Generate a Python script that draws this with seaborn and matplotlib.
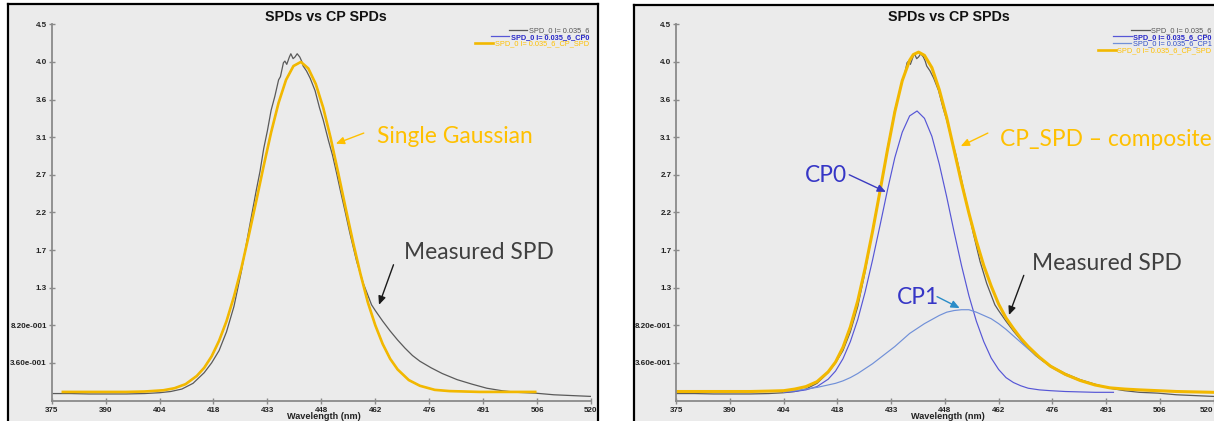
import matplotlib
matplotlib.use("Agg")
import matplotlib.pyplot as plt
import seaborn as sns
from matplotlib import font_manager as fm
from matplotlib.lines import Line2D

# ---------------- data ----------------
measured_nm = [375, 380, 385, 390, 395, 400, 404, 407, 410, 413,
               416, 418, 420, 422, 424, 426, 428, 430, 431, 432,
               433, 434, 435, 436, 436.5, 437.3, 437.7, 438.2, 438.9, 439.3,
               439.9, 440.4, 441.0, 441.7, 442.2, 442.6, 443.5, 444.5, 445.8, 447,
               448, 449.4, 450.5, 451.6, 452.6, 453.6, 455.2, 457, 458.8, 461,
               462, 464, 466, 468, 470, 472, 474, 477, 480, 484,
               488, 492, 496, 500, 505, 510, 515, 520]
measured_val = [-0.015, -0.015, -0.02, -0.02, -0.02, -0.015, -0.005, 0.01, 0.04, 0.11,
                0.24, 0.36, 0.51, 0.74, 1.05, 1.48, 1.98, 2.47, 2.70, 2.98,
                3.20, 3.45, 3.62, 3.82, 3.86, 4.03, 4.05, 4.01, 4.10, 4.14,
                4.08, 4.10, 4.14, 4.10, 4.05, 3.99, 3.93, 3.84, 3.69, 3.48,
                3.33, 3.08, 2.90, 2.68, 2.47, 2.27, 1.94, 1.60, 1.33, 1.07,
                1.00, 0.87, 0.75, 0.64, 0.54, 0.45, 0.38, 0.30, 0.23, 0.155,
                0.10, 0.05, 0.02, 0.0, -0.01, -0.03, -0.04, -0.05]

gauss_nm = [378, 385, 390, 395, 400, 405, 408, 411, 414, 416,
            418, 420, 422, 424, 426, 428, 430, 432, 434, 436,
            438, 440, 442, 444, 446, 448, 450, 452, 454, 456,
            458, 460, 462, 464, 466, 468, 471, 474, 478, 482,
            486, 490, 495, 500, 505]
gauss_val = [0.005, 0.005, 0.005, 0.005, 0.01, 0.025, 0.05, 0.10, 0.20, 0.30,
             0.44, 0.63, 0.87, 1.17, 1.52, 1.92, 2.34, 2.77, 3.18, 3.54,
             3.82, 3.99, 4.04, 3.96, 3.77, 3.48, 3.11, 2.69, 2.26, 1.84,
             1.45, 1.10, 0.82, 0.59, 0.41, 0.28, 0.15, 0.08, 0.03, 0.015,
             0.01, 0.005, 0.005, 0.005, 0.005]

cp0_nm = [404, 407, 410, 413, 416, 418, 420, 422, 424, 426,
          428, 430, 432, 434, 436, 438, 440, 442, 444, 446,
          448, 450, 452, 454, 456, 458, 460, 462, 464, 466,
          468, 470, 473, 476, 480, 484, 488, 493]
cp0_val = [0.0, 0.01, 0.03, 0.07, 0.16, 0.26, 0.41, 0.62, 0.89, 1.23,
           1.62, 2.04, 2.47, 2.87, 3.18, 3.38, 3.44, 3.35, 3.13, 2.79,
           2.39, 1.96, 1.55, 1.18, 0.87, 0.62, 0.42, 0.28, 0.18, 0.12,
           0.08, 0.05, 0.03, 0.02, 0.01, 0.005, 0.0, 0.0]

cp1_nm = [404, 407, 410, 413, 416, 418, 420, 422, 424, 426,
          428, 430, 432, 434, 436, 438, 440, 442, 444, 446,
          448, 450, 452, 454, 456, 458, 460, 462, 464, 466,
          468, 470, 473, 476, 480, 484, 488, 492, 496, 500,
          505, 510, 515, 520]
cp1_val = [0.005, 0.02, 0.04, 0.06, 0.09, 0.11, 0.14, 0.18, 0.23, 0.29,
           0.35, 0.42, 0.49, 0.56, 0.64, 0.72, 0.78, 0.84, 0.89, 0.94,
           0.98, 1.00, 1.01, 1.01, 0.98, 0.94, 0.90, 0.84, 0.77, 0.69,
           0.61, 0.53, 0.42, 0.31, 0.21, 0.14, 0.09, 0.055, 0.035, 0.025,
           0.015, 0.01, 0.005, 0.0]

cp_spd_nm = [375, 380, 385, 390, 395, 400, 404, 407, 410, 413,
             416, 418, 420, 422, 424, 426, 428, 430, 432, 434,
             436, 438, 439, 440.4, 442, 444, 446, 448, 450, 452,
             454, 456, 458, 460, 462, 464, 466, 468, 470, 473,
             476, 480, 484, 488, 492, 496, 500, 505, 510, 515, 520]
cp_spd_val = [0.01, 0.01, 0.01, 0.01, 0.01, 0.015, 0.02, 0.04, 0.07, 0.13,
              0.25, 0.37, 0.55, 0.80, 1.12, 1.52, 1.97, 2.46, 2.96, 3.43,
              3.81, 4.06, 4.13, 4.16, 4.12, 3.97, 3.70, 3.36, 2.96, 2.56,
              2.19, 1.85, 1.55, 1.30, 1.08, 0.91, 0.78, 0.66, 0.56, 0.43,
              0.32, 0.22, 0.145, 0.09, 0.055, 0.04, 0.03, 0.02, 0.01, 0.005, 0.0]

x_ticks = [375, 389.5, 404, 418.5, 433, 447.5, 462, 476.5, 491, 505.5, 520]
x_tick_labels = ["375", "390", "404", "418", "433", "448", "462", "476", "491", "506", "520"]
y_ticks = [0.36, 0.82, 1.28, 1.74, 2.2, 2.66, 3.12, 3.58, 4.04, 4.5]
y_tick_labels = ["3.60e-001", "8.20e-001", "1.3", "1.7", "2.2", "2.7", "3.1", "3.6", "4.0", "4.5"]

title_text = "SPDs vs CP SPDs"
xlabel_text = "Wavelength (nm)"
legend_left = ["SPD_0 I= 0.035_6", "SPD_0 I= 0.035_6_CP0", "SPD_0 I= 0.035_6_CP_SPD"]
legend_right = ["SPD_0 I= 0.035_6", "SPD_0 I= 0.035_6_CP0", "SPD_0 I= 0.035_6_CP1",
                "SPD_0 I= 0.035_6_CP_SPD"]

# ---------------- style ----------------
avail = {f.name for f in fm.fontManager.ttflist}
def pick(*names):
    for n in names:
        if n in avail:
            return n
    return "DejaVu Sans"

SANS = pick("Liberation Sans", "Arimo", "DejaVu Sans")
CAL = pick("Lato", "Open Sans", "DejaVu Sans")
plt.rcParams["font.family"] = [SANS, "DejaVu Sans"]

BG = "#EBEBEB"
MEAS = "#5A5A5A"
GOLD_LINE = "#F2B800"
GOLD_TEXT = "#FFC000"
CP0_LINE = "#5656D6"
CP1_LINE = "#7090D8"
BLUE_TEXT = "#3636C6"
LEG_BLUE = "#2828C8"
AXIS_C = "#8A8A8A"

W, H = 1214, 421
fig = plt.figure(figsize=(W / 100, H / 100), dpi=100)
fig.patch.set_facecolor("white")


def px_axes(x0, y0, x1, y1):
    return [x0 / W, (H - y1) / H, (x1 - x0) / W, (y1 - y0) / H]


def frame(x0, y0, x1, y1):
    fr = fig.add_axes(px_axes(x0, y0, x1, y1))
    fr.set_facecolor(BG)
    for s in fr.spines.values():
        s.set_color("black")
        s.set_linewidth(1.6)
    fr.set_xticks([])
    fr.set_yticks([])
    fr.set_zorder(0)
    return fr


frame(8, 4, 598, 445)
frame(634, 5, 1260, 445)

PLOT_TOP, PLOT_BOT = 24.3, 400.5


def make_axes(x0, x1, last_label_right=False):
    ax = fig.add_axes(px_axes(x0, PLOT_TOP, x1, PLOT_BOT))
    ax.set_facecolor("none")
    ax.set_zorder(2)
    ax.set_xlim(375, 520)
    ax.set_ylim(-0.1, 4.5)
    for side in ("top", "right"):
        ax.spines[side].set_visible(False)
    for side in ("left", "bottom"):
        ax.spines[side].set_color(AXIS_C)
        ax.spines[side].set_linewidth(1.3)
    ax.set_xticks(x_ticks)
    ax.set_xticklabels(x_tick_labels)
    ax.set_yticks(y_ticks)
    ax.set_yticklabels(y_tick_labels)
    ax.tick_params(axis="both", direction="inout", length=5, width=1.0,
                   color=AXIS_C, labelsize=5.8, labelcolor="#222222")
    ax.tick_params(axis="x", pad=2.5)
    ax.tick_params(axis="y", pad=1.0)
    for lab in ax.get_xticklabels() + ax.get_yticklabels():
        lab.set_fontweight("bold")
    if last_label_right:
        ax.get_xticklabels()[-1].set_horizontalalignment("right")
    ax.set_title(title_text, fontsize=10.3, fontweight="bold", pad=1.3,
                 x=0.508, color="#111111")
    ax.set_xlabel(xlabel_text, fontsize=6.6, fontweight="bold", color="#222222")
    ax.xaxis.set_label_coords(0.505, (PLOT_BOT - 412.0) / (PLOT_BOT - PLOT_TOP))
    ax.set_ylabel("")
    return ax


axL = make_axes(51.7, 591.0)
axR = make_axes(676.2, 1213.5, last_label_right=True)

# ---------------- left panel ----------------
sns.lineplot(x=measured_nm, y=measured_val, ax=axL, color=MEAS, linewidth=0.9,
             estimator=None, legend=False)
sns.lineplot(x=gauss_nm, y=gauss_val, ax=axL, color=CP0_LINE, linewidth=0.8,
             estimator=None, legend=False)
sns.lineplot(x=gauss_nm, y=gauss_val, ax=axL, color=GOLD_LINE, linewidth=1.9,
             estimator=None, legend=False)

# ---------------- right panel ----------------
sns.lineplot(x=measured_nm, y=measured_val, ax=axR, color=MEAS, linewidth=0.9,
             estimator=None, legend=False)
sns.lineplot(x=cp0_nm, y=cp0_val, ax=axR, color=CP0_LINE, linewidth=0.85,
             estimator=None, legend=False)
sns.lineplot(x=cp1_nm, y=cp1_val, ax=axR, color=CP1_LINE, linewidth=0.85,
             estimator=None, legend=False)
sns.lineplot(x=cp_spd_nm, y=cp_spd_val, ax=axR, color=GOLD_LINE, linewidth=2.2,
             estimator=None, legend=False)


def add_legend(ax, labels, line_colors, line_widths, text_colors, bolds):
    handles = [Line2D([], [], color=c, lw=lw) for c, lw in zip(line_colors, line_widths)]
    width_px = ax.get_position().width * W
    height_px = ax.get_position().height * H
    leg = ax.legend(handles, labels, loc="upper right",
                    bbox_to_anchor=(1 - 2.0 / width_px, 1 - 3.0 / height_px),
                    frameon=False, prop={"family": SANS, "size": 5.3},
                    handlelength=2.5, handletextpad=0.2, labelspacing=-0.08,
                    borderpad=0, borderaxespad=0)
    for t, tc, b in zip(leg.get_texts(), text_colors, bolds):
        t.set_color(tc)
        if b:
            t.set_fontweight("bold")
    for col in leg._legend_handle_box.get_children():
        col.align = "right"
    return leg


add_legend(axL, legend_left, [MEAS, CP0_LINE, GOLD_LINE], [0.9, 0.9, 1.9],
           ["#555555", LEG_BLUE, GOLD_TEXT], [False, True, False])
add_legend(axR, legend_right, [MEAS, CP0_LINE, CP1_LINE, GOLD_LINE], [0.9, 0.9, 0.9, 1.9],
           ["#555555", LEG_BLUE, "#3050C8", GOLD_TEXT], [False, True, False, False])


def arrow(ax, tail, head, color, lw=1.0):
    ax.annotate("", xy=head, xytext=tail,
                arrowprops=dict(arrowstyle="-|>,head_length=0.5,head_width=0.22",
                                color=color, lw=lw, shrinkA=0, shrinkB=0),
                annotation_clip=False)


ANN = 16.4
# left annotations
axL.text(462.4, 3.05, "Single Gaussian", fontsize=ANN, family=CAL, color=GOLD_TEXT,
         ha="left", va="baseline")
arrow(axL, (458.9, 3.17), (451.4, 3.04), GOLD_TEXT)
axL.text(469.7, 1.63, "Measured SPD", fontsize=ANN, family=CAL, color="#404040",
         ha="left", va="baseline")
arrow(axL, (466.9, 1.56), (463.0, 1.07), "#1A1A1A")

# right annotations
axR.text(462.3, 3.01, "CP_SPD \u2013 composite", fontsize=ANN, family=CAL,
         color=GOLD_TEXT, ha="left", va="baseline")
arrow(axR, (459.1, 3.17), (451.8, 3.01), GOLD_TEXT)
axR.text(409.6, 2.57, "CP0", fontsize=ANN, family=CAL, color=BLUE_TEXT,
         ha="left", va="baseline")
arrow(axR, (421.7, 2.66), (431.6, 2.45), "#3A3AC0")
axR.text(434.6, 1.08, "CP1", fontsize=ANN, family=CAL, color=BLUE_TEXT,
         ha="left", va="baseline")
arrow(axR, (445.4, 1.17), (451.5, 1.03), "#2A8CC8")
axR.text(471.0, 1.49, "Measured SPD", fontsize=ANN, family=CAL, color="#404040",
         ha="left", va="baseline")
arrow(axR, (468.8, 1.43), (464.8, 0.945), "#1A1A1A")

fig.savefig("out.png", dpi=100, facecolor="white")
